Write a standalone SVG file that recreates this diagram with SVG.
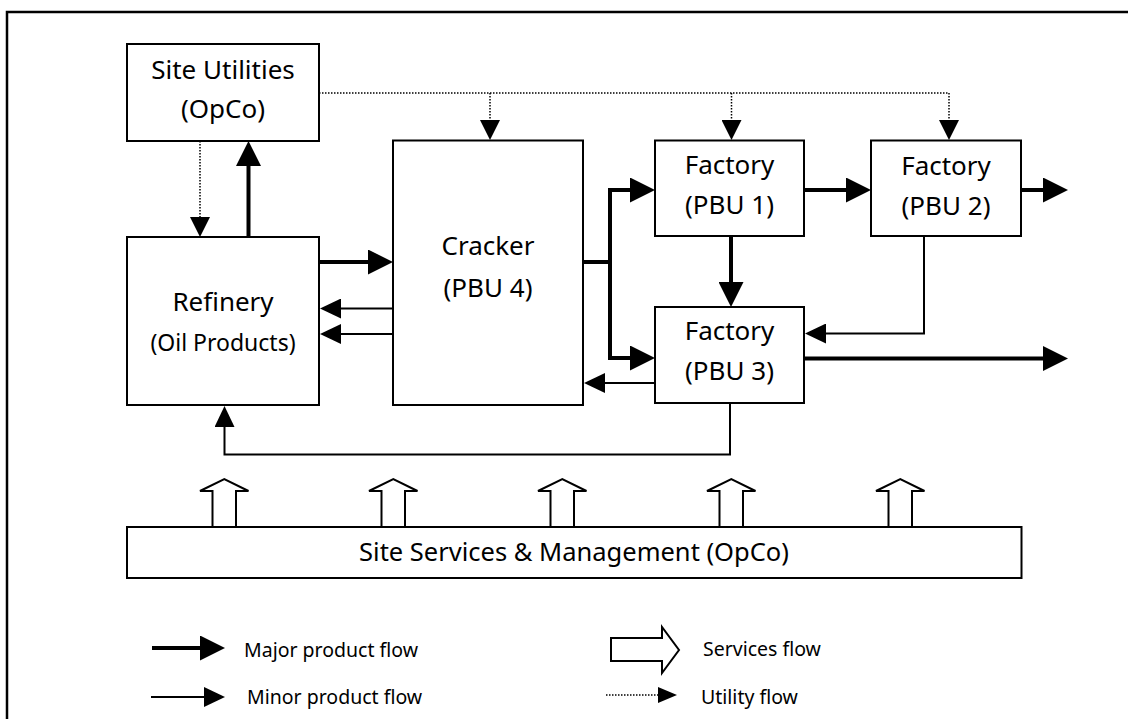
<svg xmlns="http://www.w3.org/2000/svg" width="1128" height="719" viewBox="0 0 1128 719">
<style>
  .box { fill: #fff; stroke: #000; stroke-width: 2; }
  .lbl { font-family: "Noto Sans", "DejaVu Sans", sans-serif; font-size: 26px; fill: #000; text-anchor: middle; }
  .sub { font-size: 23px; }
  .leg { font-family: "Noto Sans", "DejaVu Sans", sans-serif; font-size: 19.5px; fill: #000; }
  .major { fill: none; stroke: #000; stroke-width: 4; marker-end: url(#hMajor); }
  .minor { fill: none; stroke: #000; stroke-width: 2; marker-end: url(#hMinor); }
  .util { fill: none; stroke: #000; stroke-width: 1.5; stroke-dasharray: 1.5 1.5; marker-end: url(#hUtil); }
  .utilplain { fill: none; stroke: #000; stroke-width: 1.5; stroke-dasharray: 1.5 1.5; }
  .svc { fill: #fff; stroke: #000; stroke-width: 2; stroke-linejoin: miter; }
</style>
<defs>
  <marker id="hMajor" viewBox="0 0 25 25" refX="0" refY="12.5" markerWidth="25" markerHeight="25" markerUnits="userSpaceOnUse" orient="auto">
    <path d="M0,0 L25,12.5 L0,25 Z" fill="#000"/>
  </marker>
  <marker id="hMinor" viewBox="0 0 21 20" refX="0" refY="10" markerWidth="21" markerHeight="20" markerUnits="userSpaceOnUse" orient="auto">
    <path d="M0,0 L21,10 L0,20 Z" fill="#000"/>
  </marker>
  <marker id="hUtil" viewBox="0 0 20 20" refX="0" refY="10" markerWidth="20" markerHeight="20" markerUnits="userSpaceOnUse" orient="auto">
    <path d="M0,0 L20,10 L0,20 Z" fill="#000"/>
  </marker>
</defs>

<rect x="0" y="0" width="1128" height="719" fill="#fff"/>
<rect id="frame" x="7" y="12" width="1140" height="730" fill="none" stroke="#000" stroke-width="2.5"/>

<g id="connectors">
  <!-- utility flows -->
  <path class="utilplain" d="M319,93 H949"/>
  <path class="util" d="M490,93 V120"/>
  <path class="util" d="M731.5,93 V120"/>
  <path class="util" d="M949,93 V120"/>
  <path class="util" d="M200,141 V217"/>
  <!-- major flows -->
  <path class="major" d="M248.5,237 V166"/>
  <path class="major" d="M319,262 H368"/>
  <path class="major" d="M583,262 H610 V190 H630"/>
  <path class="major" d="M610,262 V358 H630"/>
  <path class="major" d="M804,190 H846"/>
  <path class="major" d="M1021,190 H1043"/>
  <path class="major" d="M731,236 V282"/>
  <path class="major" d="M804,358.5 H1043"/>
  <!-- minor flows -->
  <path class="minor" d="M393,308.5 H341"/>
  <path class="minor" d="M393,334 H341"/>
  <path class="minor" d="M924,236 V333.5 H826"/>
  <path class="minor" d="M655,383 H605"/>
  <path class="minor" d="M730,403 V454.5 H224.5 V427"/>
</g>

<g id="site-utilities">
  <rect class="box" x="127" y="44" width="192" height="97"/>
  <text class="lbl" x="223" y="79">Site Utilities</text>
  <text class="lbl" x="223" y="118">(OpCo)</text>
</g>

<g id="refinery">
  <rect class="box" x="127" y="237" width="192" height="168"/>
  <text class="lbl" x="223" y="311">Refinery</text>
  <text class="lbl sub" x="223" y="351">(Oil Products)</text>
</g>

<g id="cracker">
  <rect class="box" x="393" y="140.5" width="190" height="264.5"/>
  <text class="lbl" x="488" y="255">Cracker</text>
  <text class="lbl" x="488" y="297">(PBU 4)</text>
</g>

<g id="pbu1">
  <rect class="box" x="655" y="140.5" width="149" height="95.5"/>
  <text class="lbl" x="729.5" y="174">Factory</text>
  <text class="lbl" x="729.5" y="214">(PBU 1)</text>
</g>

<g id="pbu2">
  <rect class="box" x="871" y="140.5" width="150" height="95.5"/>
  <text class="lbl" x="946" y="175">Factory</text>
  <text class="lbl" x="946" y="215">(PBU 2)</text>
</g>

<g id="pbu3">
  <rect class="box" x="655" y="307" width="149" height="96"/>
  <text class="lbl" x="729.5" y="340">Factory</text>
  <text class="lbl" x="729.5" y="380">(PBU 3)</text>
</g>

<g id="services-arrows">
  <polygon class="svc" points="212.5,527 212.5,491 200,491 224.3,479 248.5,491 236,491 236,527"/>
  <polygon class="svc" points="381.5,527 381.5,491 369,491 393.3,479 417.5,491 405,491 405,527"/>
  <polygon class="svc" points="550.5,527 550.5,491 538,491 562.3,479 586.5,491 574,491 574,527"/>
  <polygon class="svc" points="719.5,527 719.5,491 707,491 731.3,479 755.5,491 743,491 743,527"/>
  <polygon class="svc" points="888.5,527 888.5,491 876,491 900.3,479 924.5,491 912,491 912,527"/>
</g>

<g id="site-services">
  <rect class="box" x="127" y="527" width="894.5" height="51"/>
  <text class="lbl" x="574" y="561" style="font-size:25.5px">Site Services &amp; Management (OpCo)</text>
</g>

<g id="legend">
  <path class="major" d="M152,648 H200"/>
  <text class="leg" x="244" y="657">Major product flow</text>
  <path class="minor" d="M151,697 H204"/>
  <text class="leg" x="247" y="704">Minor product flow</text>
  <polygon class="svc" points="611,638 662,638 662,627 679,650 662,673 662,661 611,661"/>
  <text class="leg" x="703" y="656">Services flow</text>
  <path class="utilplain" d="M606,695 H658"/>
  <path d="M658,687 L677,695 L658,703 Z" fill="#000"/>
  <text class="leg" x="701" y="704">Utility flow</text>
</g>
</svg>
